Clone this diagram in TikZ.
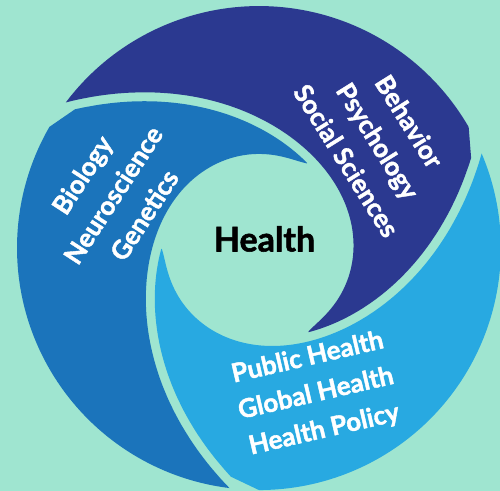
\documentclass[tikz,border=0pt]{standalone}
\usepackage{fontspec}
\setmainfont{Lato}[BoldFeatures={FakeBold=1.6}]
\definecolor{mint}{HTML}{9FE5D0}
\definecolor{navyband}{HTML}{2B3990}
\definecolor{midband}{HTML}{1B74BB}
\definecolor{skyband}{HTML}{28A9E1}
\begin{document}
\begin{tikzpicture}[x=0.5pt,y=0.5pt,
  declare function={
    % inner edge of a band, as radius over the angle q from its tip
    rin(\q)=94+148*pow(\q/203,4.66)+3.46*exp(-\q/6);
    % slope of that edge (per radian)
    rsl(\q)=194.66*pow(\q/203,3.66);
    % radial width of the gap that keeps a constant normal gap
    gapr(\q)=9*sqrt(1+pow(rsl(\q)/rin(\q),2));
    % outer edge of a band: the preceding band's inner edge minus the gap
    rout(\q)=rin(\q+120)-gapr(\q+120);
  },
  bandtext/.style={text=white, font=\bfseries\fontsize{13}{18.5}\selectfont, align=center},
  hubtext/.style={text=black, font=\bfseries\fontsize{17}{20}\selectfont},
]
\useasboundingbox (-259,-243) rectangle (241,248);
\fill[mint] (-259,-243) rectangle (241,248);

% three swirling bands, each starting with a tip at angle \t
\foreach \t/\c in {180/skyband, 300/navyband, 60/midband} {
  \fill[\c]
    plot[domain=0.5:203, samples=160, variable=\p] ({\t+\p}:{rin(\p)})
    arc[start angle=\t+203, end angle=\t+90, radius=242]
    -- plot[domain=83:0.5, samples=90, variable=\p] ({\t+\p}:{rout(\p)})
    -- cycle;
}

\node[bandtext, rotate=-58] (social) at (119,107) {Behavior\\Psychology\\Social Sciences};
\node[bandtext, rotate=57] (bio) at (-146,53) {Biology\\Neuroscience\\Genetics};
\node[bandtext, rotate=13] (public) at (57,-146) {Public Health\\Global Health\\Health Policy};
\node[hubtext] (health) at (5.5,9) {Health};
\end{tikzpicture}
\end{document}
